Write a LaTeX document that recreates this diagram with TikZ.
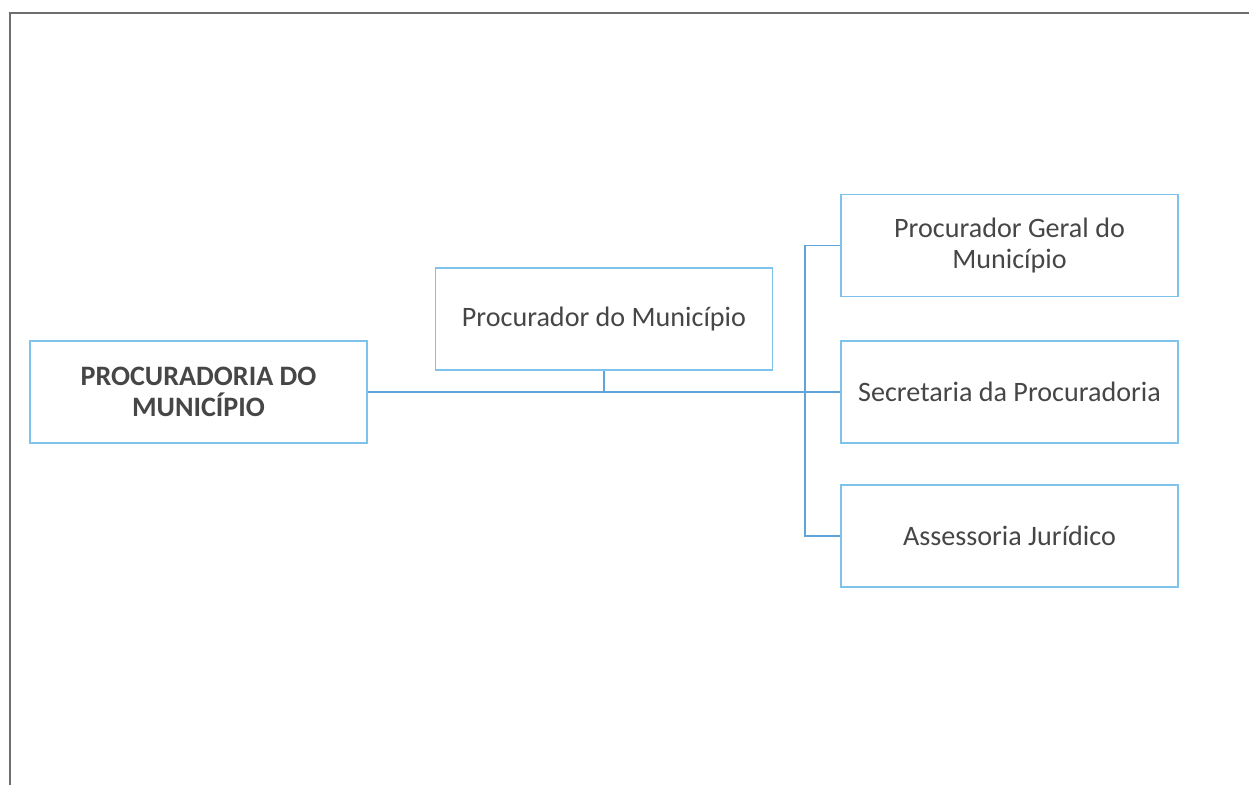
\documentclass[tikz,border=0pt]{standalone}
\usepackage{fontspec}
\setmainfont{Carlito}
\usepackage{tikz}
\definecolor{boxblue}{RGB}{125,195,235}
\definecolor{lineblue}{RGB}{95,165,220}
\definecolor{txtgray}{RGB}{70,70,70}
\definecolor{framegray}{RGB}{110,110,110}
\tikzset{
  orgbox/.style = {draw = boxblue, line width = 1pt, minimum width = 6.74cm, minimum height = 2.04cm,
    align = center, text = txtgray, font = \fontsize{16}{18}\selectfont, inner sep = 0pt},
  orgline/.style = {draw = lineblue, line width = 1pt}
}
\begin{document}
\begin{tikzpicture}
\useasboundingbox (0,0) rectangle (24.98,-15.7);
\draw[framegray, line width = 1.2pt] (0.2,-15.7)--(0.2,-0.26)--(24.98,-0.26);
\node[orgbox, font = \fontsize{16}{18}\selectfont\bfseries] (proc) at (3.97,-7.84) {PROCURADORIA DO\\MUNIC\'IPIO};
\node[orgbox] (procmun) at (12.08,-6.38) {Procurador do Munic\'ipio};
\node[orgbox] (geral) at (20.19,-4.91) {Procurador Geral do\\Munic\'ipio};
\node[orgbox] (secret) at (20.19,-7.84) {Secretaria da Procuradoria};
\node[orgbox] (assess) at (20.19,-10.72) {Assessoria Jur\'idico};
\coordinate (jct) at (procmun.south |- proc.east);
\draw[orgline] (proc.east)--(secret.west);
\draw[orgline] (procmun.south)--(jct);
\draw[orgline] (geral.west)--++(-0.7,0) |- (assess.west);
\end{tikzpicture}
\end{document}
